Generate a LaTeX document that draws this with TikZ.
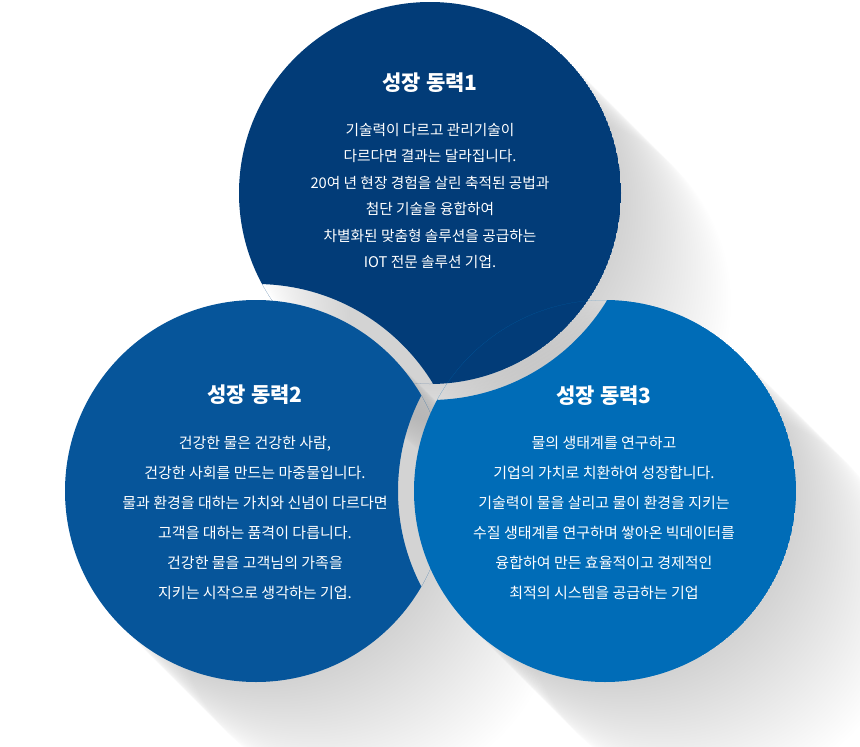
\documentclass[tikz,border=0pt]{standalone}
\usepackage{fontspec}
\newfontfamily\krfont{Noto Sans CJK KR}
\definecolor{navy1}{HTML}{023C78}
\definecolor{blue2}{HTML}{06559A}
\definecolor{blue3}{HTML}{006CB7}

\begin{document}
\begin{tikzpicture}[x=1pt,y=-1pt,
	shadowcopy/.style={fill=black,opacity=0.0026},
	heading/.style={text=white,font=\krfont\bfseries\fontsize{21}{24}\selectfont},
	body/.style={text=white,align=center,font=\krfont\fontsize{15}{30}\selectfont}]

		\useasboundingbox (0,0) rectangle (860,747);
		\clip (0,0) rectangle (860,747);

		\coordinate (growth1) at (430,193);
		\coordinate (growth2) at (256,491);
		\coordinate (growth3) at (605,491);

		\foreach \c in {growth1,growth2,growth3}
			\foreach \i in {1,...,44}
				\fill[shadowcopy] ([shift={(\i*2.5,\i*2.5)}]\c) circle (191pt);

		\begin{scope}
			\clip (growth1) circle (191pt);
			\fill[navy1,even odd rule] (growth1) circle (191pt) (growth2) circle (207pt);
		\end{scope}
		\begin{scope}
			\clip (growth2) circle (191pt);
			\fill[blue2,even odd rule] (growth2) circle (191pt) (growth3) circle (207pt);
		\end{scope}
		\begin{scope}
			\clip (growth3) circle (191pt);
			\fill[blue3,even odd rule] (growth3) circle (191pt) (growth1) circle (207pt);
		\end{scope}

		\node[heading] (title1) at (430,83) {성장 동력1};
		\node[body,font=\krfont\fontsize{14.7}{26.4}\selectfont] (text1) at (430,196)
			{기술력이 다르고 관리기술이\\
			다르다면 결과는 달라집니다.\\
			20여 년 현장 경험을 살린 축적된 공법과\\
			첨단 기술을 융합하여\\
			차별화된 맞춤형 솔루션을 공급하는\\
			IOT 전문 솔루션 기업.};

		\node[heading] (title2) at (255,395) {성장 동력2};
		\node[body] (text2) at (255,518)
			{건강한 물은 건강한 사람,\\
			건강한 사회를 만드는 마중물입니다.\\
			물과 환경을 대하는 가치와 신념이 다르다면\\
			고객을 대하는 품격이 다릅니다.\\
			건강한 물을 고객님의 가족을\\
			지키는 시작으로 생각하는 기업.};

		\node[heading] (title3) at (604,396) {성장 동력3};
		\node[body] (text3) at (604,518)
			{물의 생태계를 연구하고\\
			기업의 가치로 치환하여 성장합니다.\\
			기술력이 물을 살리고 물이 환경을 지키는\\
			수질 생태계를 연구하며 쌓아온 빅데이터를\\
			융합하여 만든 효율적이고 경제적인\\
			최적의 시스템을 공급하는 기업};

	\end{tikzpicture}
\end{document}
